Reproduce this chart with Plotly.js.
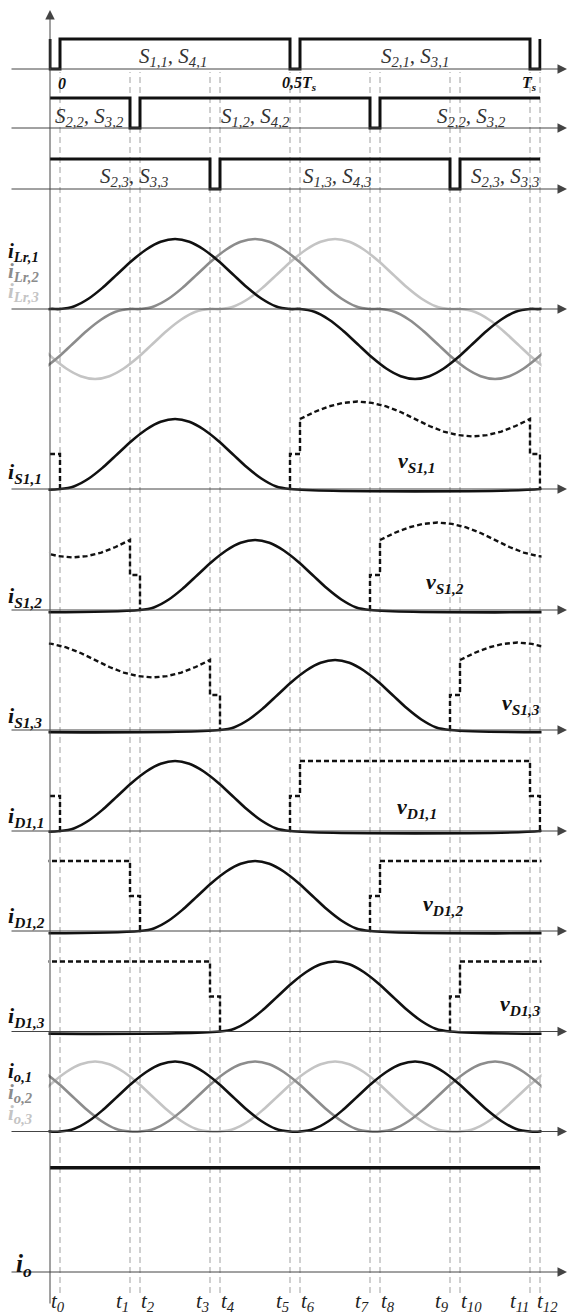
<!DOCTYPE html>
<html>
<head>
<meta charset="utf-8">
<script src="https://cdn.plot.ly/plotly-3.0.1.min.js"></script>
<style>
  html, body { margin: 0; padding: 0; background: #fff; }
  #chart { width: 568px; height: 1315px; }
</style>
</head>
<body>
<div id="chart"></div>
<script>
// time base: electrical degrees of one switching period (t0 = 0, Ts = 360)
const tickDeg = [0, 52.5, 60, 112.5, 120, 172.5, 180, 232.5, 240, 292.5, 300, 352.5, 360];
const tickNames = ['t<sub>0</sub>', 't<sub>1</sub>', 't<sub>2</sub>', 't<sub>3</sub>', 't<sub>4</sub>',
  't<sub>5</sub>', 't<sub>6</sub>', 't<sub>7</sub>', 't<sub>8</sub>', 't<sub>9</sub>',
  't<sub>10</sub>', 't<sub>11</sub>', 't<sub>12</sub>'];
const periodDeg = [0, 180, 360];
const periodNames = ['0', '0,5T<sub>s</sub>', 'T<sub>s</sub>'];
const Ts = 360;
const deadTime = 7.5;

// gate rows: instants where the conducting pair turns off (dead time follows)
const gateOff1 = [-7.5, 172.5, 352.5];
const gateOff2 = [52.5, 232.5];
const gateOff3 = [112.5, 292.5];
const gateNames1 = ['S<sub>1,1</sub>, S<sub>4,1</sub>', 'S<sub>2,1</sub>, S<sub>3,1</sub>'];
const gateNames2 = ['S<sub>2,2</sub>, S<sub>3,2</sub>', 'S<sub>1,2</sub>, S<sub>4,2</sub>', 'S<sub>2,2</sub>, S<sub>3,2</sub>'];
const gateNames3 = ['S<sub>2,3</sub>, S<sub>3,3</sub>', 'S<sub>1,3</sub>, S<sub>4,3</sub>', 'S<sub>2,3</sub>, S<sub>3,3</sub>'];

// one resonant current pulse, normalised to its peak
const pulseDeg = [0, 10.8, 21.6, 32.3, 43.1, 53.9, 64.7, 75.5, 86.3, 97, 107.8, 118.6, 129.4, 140.2, 151, 161.7, 172.5];
const pulseVal = [0, 0.04, 0.15, 0.31, 0.5, 0.69, 0.85, 0.96, 1, 0.96, 0.85, 0.69, 0.5, 0.31, 0.15, 0.04, 0];
// switch blocking voltage over its off interval (same time samples)
const vSOffVal = [1, 1.1, 1.18, 1.23, 1.25, 1.23, 1.18, 1.1, 1, 0.9, 0.82, 0.77, 0.75, 0.77, 0.82, 0.9, 1];
// diode blocking voltage is flat
const vDOffDeg = [0, 172.5];
const vDOffVal = [1, 1];
const vStep = 0.5; // voltage held during the dead time

// pulse start (deg) and polarity
const iLr1 = [[0, 1], [180, -1]];
const iLr2 = [[60, 1], [240, -1]];
const iLr3 = [[120, 1], [300, -1]];
const io1 = [[0, 1], [180, 1]];
const io2 = [[60, 1], [240, 1]];
const io3 = [[120, 1], [300, 1]];
const phaseOn = [0, 60, 120]; // conduction start of S1,k and D1,k
const ioLevel = 1.49;

const sNames = ['i<sub>S1,1</sub>', 'i<sub>S1,2</sub>', 'i<sub>S1,3</sub>'];
const dNames = ['i<sub>D1,1</sub>', 'i<sub>D1,2</sub>', 'i<sub>D1,3</sub>'];
const vsNames = ['v<sub>S1,1</sub>', 'v<sub>S1,2</sub>', 'v<sub>S1,3</sub>'];
const vdNames = ['v<sub>D1,1</sub>', 'v<sub>D1,2</sub>', 'v<sub>D1,3</sub>'];
const lrNames = ['i<sub>Lr,1</sub>', 'i<sub>Lr,2</sub>', 'i<sub>Lr,3</sub>'];
const ioNames = ['i<sub>o,1</sub>', 'i<sub>o,2</sub>', 'i<sub>o,3</sub>'];
const ioName = 'i<sub>o</sub>';

// ---- page geometry
const H = 1315, W = 568;
const py = px => 1 - px / H;
const px2deg = px => (px - 60) * 0.75;
const ink = '#111111', mid = '#8c8c8c', pale = '#c4c4c4';
const serif = "'Liberation Serif', 'Times New Roman', serif";

const x0 = tickDeg[0] - deadTime; // vertical axis
const x1 = Ts;

// baseline (px from top) and px per unit for each row
const rows = [
  {base: 69, unit: 30, below: 12, above: 45},
  {base: 128, unit: 30, below: 12, above: 45},
  {base: 189, unit: 30, below: 12, above: 45},
  {base: 309, unit: 70, below: 85, above: 100},
  {base: 489, unit: 70, below: 20, above: 100},
  {base: 610, unit: 70, below: 20, above: 100},
  {base: 730, unit: 70, below: 20, above: 100},
  {base: 831, unit: 70, below: 20, above: 100},
  {base: 931, unit: 70, below: 20, above: 100},
  {base: 1031.5, unit: 70, below: 20, above: 100},
  {base: 1131.5, unit: 70, below: 20, above: 100},
  {base: 1272, unit: 70, below: 20, above: 120}
];
const yId = k => (k ? 'y' + (k + 1) : 'y');

function pulseTrain(pulses) {
  const x = [], y = [];
  [-Ts, 0, Ts].forEach(shift => pulses.forEach(([start, sign]) => {
    pulseDeg.forEach((d, k) => { x.push(start + shift + d); y.push(sign * pulseVal[k]); });
  }));
  return {x, y};
}

function blocking(on, offDeg, offVal) {
  const x = [], y = [];
  [-Ts, 0].forEach(shift => {
    const rise = on + shift + pulseDeg[pulseDeg.length - 1];
    const off = rise + deadTime;
    const fall = off + offDeg[offDeg.length - 1];
    let sx = [rise, rise, off], sy = [0, vStep, vStep];
    offDeg.forEach((d, k) => { sx.push(off + d); sy.push(offVal[k]); });
    sx.push(fall, fall + deadTime, fall + deadTime);
    sy.push(vStep, vStep, 0);
    // a piece ending on the axis keeps only its last step there
    const k = sx.indexOf(x0);
    if (k >= 0) {
      let s = k;
      while (sx[s + 1] === x0) s++;
      sx = sx.slice(s); sy = sy.slice(s);
    }
    if (x.length) { x.push(null); y.push(null); }
    x.push(...sx); y.push(...sy);
  });
  return {x, y};
}

function gate(offs) {
  const x = [x0], y = [1];
  offs.forEach(t => { x.push(t, t, t + deadTime, t + deadTime); y.push(1, 0, 0, 1); });
  x.push(x1); y.push(1);
  return {x, y};
}

const traces = [];
function add(d, k, line) {
  traces.push({x: d.x, y: d.y, xaxis: 'x', yaxis: yId(k), mode: 'lines',
    line: line, hoverinfo: 'skip', connectgaps: false, showlegend: false});
}
const cur = c => ({color: c, width: 2.6, shape: 'spline'});
const dashed = {color: ink, width: 2.4, dash: '5px,3px'};

[gateOff1, gateOff2, gateOff3].forEach((g, k) => add(gate(g), k, {color: ink, width: 3}));
add(pulseTrain(iLr3), 3, cur(pale));
add(pulseTrain(iLr2), 3, cur(mid));
add(pulseTrain(iLr1), 3, cur(ink));
phaseOn.forEach((p, k) => {
  add(pulseTrain([[p, 1]]), 4 + k, cur(ink));
  add(blocking(p, pulseDeg, vSOffVal), 4 + k, dashed);
  add(pulseTrain([[p, 1]]), 7 + k, cur(ink));
  add(blocking(p, vDOffDeg, vDOffVal), 7 + k, dashed);
});
add(pulseTrain(io3), 10, cur(pale));
add(pulseTrain(io2), 10, cur(mid));
add(pulseTrain(io1), 10, cur(ink));
add({x: [x0, x1], y: [ioLevel, ioLevel]}, 11, {color: ink, width: 3.4});

// ---- layout
const layout = {
  width: W, height: H,
  margin: {l: 0, r: 0, t: 0, b: 0, pad: 0},
  paper_bgcolor: '#ffffff', plot_bgcolor: 'rgba(0,0,0,0)',
  showlegend: false,
  font: {family: serif},
  xaxis: {domain: [48.5 / W, 541.5 / W], range: [px2deg(48.5), px2deg(541.5)],
    visible: false, fixedrange: true, anchor: 'y'},
  shapes: [], annotations: []
};
rows.forEach((r, k) => {
  layout['yaxis' + (k ? k + 1 : '')] = {
    domain: [py(r.base + r.below), py(r.base - r.above)],
    range: [-r.below / r.unit, r.above / r.unit],
    anchor: 'x', visible: false, fixedrange: true
  };
});

// dashed instants
tickDeg.forEach(t => layout.shapes.push({type: 'line', xref: 'x', yref: 'paper',
  x0: t, x1: t, y0: py(1293), y1: py(72), layer: 'below',
  line: {color: '#a0a0a0', width: 1, dash: '6px,4px'}}));

const ann = layout.annotations;
// time axes with arrows
rows.forEach((r, k) => ann.push({xref: 'paper', x: 567 / W, yref: yId(k), y: 0,
  axref: 'pixel', ax: -557, ayref: 'pixel', ay: 0, text: '', showarrow: true,
  arrowhead: 2, arrowsize: 1.9, arrowwidth: 1, arrowcolor: '#444'}));
ann.push({xref: 'x', x: x0, yref: 'paper', y: py(10), axref: 'pixel', ax: 0,
  ayref: 'pixel', ay: 1295, text: '', showarrow: true,
  arrowhead: 2, arrowsize: 1.9, arrowwidth: 1, arrowcolor: '#444'});

function label(text, xpx, ypx, size, color, anchor) {
  ann.push({xref: 'paper', x: xpx / W, yref: 'paper', y: py(ypx), text: text,
    showarrow: false, xanchor: anchor || 'center', yanchor: 'middle', borderpad: 0,
    font: {family: serif, size: size, color: color}});
}
const bi = s => '<b><i>' + s + '</i></b>';

// gate labels
[[gateNames1, [173, 415], 57], [gateNames2, [89, 255, 471], 117], [gateNames3, [134, 337, 505], 177]]
  .forEach(([names, xs, y]) => names.forEach((n, k) => label('<i>' + n + '</i>', xs[k], y, 21, '#333')));

// period marks on the first row
periodDeg.forEach((t, k) => ann.push({xref: 'x', x: t, yref: 'paper', y: py(83),
  text: bi(periodNames[k]), showarrow: false, borderpad: 0,
  xanchor: k === 2 ? 'right' : 'center', xshift: [2, -1, -2][k], yanchor: 'middle',
  font: {family: serif, size: 16, color: ink}}));

// row names
lrNames.forEach((n, k) => label(bi(n), 7, [252, 272, 292][k], 21, [ink, mid, pale][k], 'left'));
sNames.forEach((n, k) => label(bi(n), 7, [473, 597, 717][k], 22, ink, 'left'));
dNames.forEach((n, k) => label(bi(n), 7, [817, 917, 1017][k], 22, ink, 'left'));
ioNames.forEach((n, k) => label(bi(n), 7, [1072, 1093, 1114][k], 21, [ink, mid, pale][k], 'left'));
label(bi(ioName), 15, 1265, 25, ink, 'left');
vsNames.forEach((n, k) => label(bi(n), [417, 445, 521][k], [462, 583, 704][k], 22, ink));
vdNames.forEach((n, k) => label(bi(n), [417, 443, 520][k], [808, 905, 1005][k], 22, ink));

// instant names under the last axis
tickDeg.forEach((t, k) => ann.push({xref: 'x', x: t, yref: 'paper', y: py(1302),
  text: '<i>' + tickNames[k] + '</i>', showarrow: false, borderpad: 0, yanchor: 'middle',
  xanchor: k === 0 ? 'center' : (k % 2 ? 'right' : 'left'),
  xshift: k === 0 ? -2 : (k === 12 ? -4 : 0),
  font: {family: serif, size: 21, color: '#222'}}));

Plotly.newPlot('chart', traces, layout, {staticPlot: true, displayModeBar: false});
</script>
</body>
</html>
